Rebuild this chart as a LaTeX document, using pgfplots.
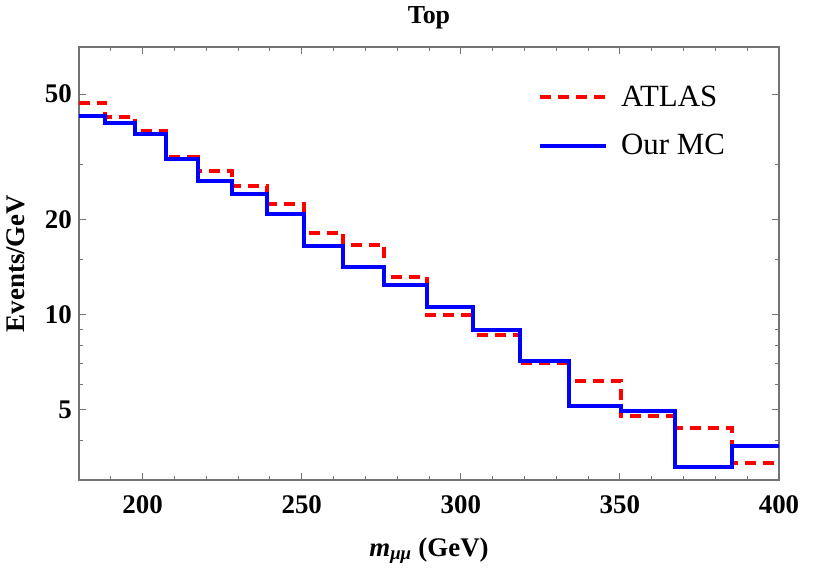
\documentclass[border=0pt]{standalone}
\usepackage{fontspec}
\setmainfont{Liberation Serif}
\usepackage{pgfplots}
\pgfplotsset{compat=1.18}
\definecolor{framegray}{gray}{0.45}
\begin{document}
\begin{tikzpicture}
\begin{axis}[
  at={(0,0)}, anchor=south west,
  width=700bp, height=433bp, scale only axis,
  xmin=180, xmax=400, ymin=3, ymax=70.5,
  ymode=log,
  xtick={200,250,300,350,400},
  xticklabels={200,250,300,350,400},
  minor xtick={190,210,220,230,240,260,270,280,290,310,320,330,340,360,370,380,390},
  ytick={5,10,20,50},
  yticklabels={5,10,20,50},
  minor ytick={4,6,7,8,9,15,30},
  tick align=inside,
  major tick length=7bp, minor tick length=4bp,
  axis line style={framegray, line width=1.2bp},
  every tick/.style={framegray, line width=1bp},
  every tick label/.append style={inner sep=0pt, font=\fontsize{27}{27}\selectfont\bfseries},
  xticklabel style={anchor=north, yshift=-15bp},
  yticklabel style={anchor=east, xshift=-7bp},
  xlabel={\fontsize{27}{27}\selectfont\bfseries\itshape m\textsubscript{μμ}\upshape{} (GeV)},
  xlabel style={at={(axis description cs:0.5,0)}, anchor=base, yshift=-76bp},
  ylabel={\fontsize{27}{27}\selectfont\bfseries Events/GeV},
  ylabel style={at={(axis description cs:0,0.5)}, anchor=center, yshift=63bp},
  title={\fontsize{26}{26}\selectfont\bfseries Top},
  every axis title/.style={at={(axis description cs:0.5,1)}, anchor=base, yshift=23bp},
  legend image code/.code={\draw[#1] (0bp,0bp) -- (66bp,0bp);},
  legend style={draw=none, fill=none, inner sep=0pt, font=\fontsize{31}{31}\selectfont,
    at={(axis description cs:0.6557,0.829)}, anchor=west,
    nodes={inner sep=0pt}, column sep=13bp, row sep=27bp},
  legend cell align=left,
]
\addplot[red, line width=4bp, dash pattern=on 11bp off 7bp, const plot] coordinates {
(180,46.9) (188.3,42.3) (197.7,38.2) (207.5,31.7) (217.3,28.5) (228,25.6) (239,22.4) (250.7,18.2) (263.1,16.7) (276,13.2) (289.4,10.0) (303.7,8.64) (318.5,7.03) (334,6.19) (350.3,4.80) (367.4,4.39) (385.1,3.39) (400,3.39)
};
\addlegendentry{ATLAS}
\addplot[blue, line width=4bp, const plot] coordinates {
(180,42.5) (188.3,40.5) (197.7,37.3) (207.5,31.1) (217.3,26.6) (228,24.2) (239,20.9) (250.7,16.5) (263.1,14.2) (276,12.4) (289.4,10.6) (303.7,8.96) (318.5,7.15) (334,5.15) (350.3,4.97) (367.4,3.31) (385.1,3.85) (400,3.85)
};
\addlegendentry{Our MC}
\end{axis}
\pgfresetboundingbox
\path[use as bounding box] (-79bp,-90bp) rectangle (751bp,480bp);
\end{tikzpicture}
\end{document}
